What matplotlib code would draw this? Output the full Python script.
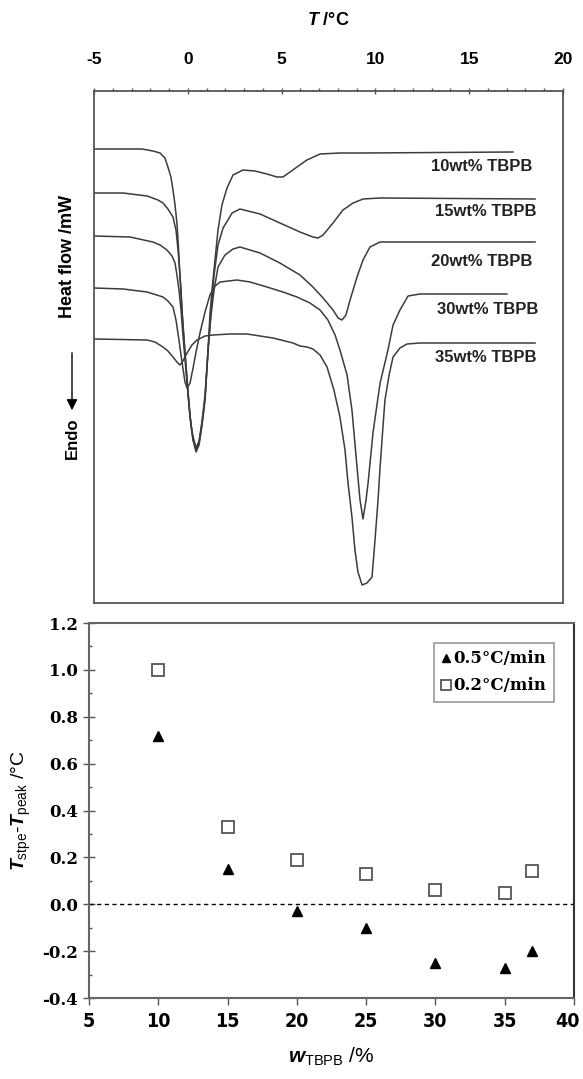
import matplotlib
matplotlib.use('Agg')
import matplotlib.pyplot as plt
import matplotlib.transforms as mtransforms
from matplotlib import font_manager
from matplotlib.font_manager import FontProperties
from matplotlib.ticker import MultipleLocator, FormatStrFormatter, NullLocator

plt.rcParams['font.family'] = ['Liberation Sans', 'DejaVu Sans']
plt.rcParams['axes.unicode_minus'] = False
plt.rcParams['mathtext.fontset'] = 'custom'
plt.rcParams['mathtext.rm'] = 'Liberation Sans'
plt.rcParams['mathtext.it'] = 'Liberation Sans:italic:bold'
plt.rcParams['mathtext.bf'] = 'Liberation Sans:bold'

# narrow bold face for the lower x tick labels, if one is installed
narrow_fp = None
for f in font_manager.fontManager.ttflist:
    cond = 'Narrow' in f.name or 'Condensed' in f.name or str(f.stretch) in ('condensed', 'semi-condensed')
    if cond and f.style == 'normal' and str(f.weight) in ('bold', '700') and 'Sans' in f.name + f.fname:
        narrow_fp = FontProperties(fname=f.fname, size=14)
        break
if narrow_fp is None:
    narrow_fp = FontProperties(family='Liberation Sans', weight='bold', size=13)

# ---- DSC curves (T in degC, heat flow in arbitrary mW) ----
T10 = [-5.00, -2.44, -1.86, -1.48, -1.22, -1.06, -0.90, -0.79, -0.68, -0.58, -0.52, -0.47, -0.42, -0.36,
       -0.31, -0.20, -0.04, 0.12, 0.28, 0.44, 0.60, 0.76, 0.92, 1.08, 1.18, 1.29, 1.45, 1.61, 1.82, 2.09,
       2.41, 2.94, 3.58, 4.22, 4.75, 5.07, 5.45, 5.82, 6.35, 7.05, 8.11, 9.34, 17.33]
H10 = [4.54, 4.54, 4.52, 4.50, 4.45, 4.36, 4.26, 4.13, 3.98, 3.80, 3.63, 3.46, 3.28, 3.13,
       2.93, 2.63, 2.23, 1.86, 1.63, 1.51, 1.58, 1.78, 2.03, 2.53, 2.88, 3.13, 3.43, 3.73, 3.98, 4.15,
       4.28, 4.33, 4.32, 4.29, 4.26, 4.26, 4.31, 4.36, 4.43, 4.49, 4.50, 4.50, 4.51]

T15 = [-5.00, -3.45, -2.17, -1.59, -1.32, -1.06, -0.79, -0.63, -0.52, -0.42, -0.31, -0.20, -0.04, 0.12,
       0.28, 0.44, 0.60, 0.76, 0.92, 1.08, 1.24, 1.40, 1.61, 1.88, 2.36, 2.78, 3.85, 4.91, 5.98, 6.67,
       6.94, 7.21, 7.74, 8.27, 8.81, 9.34, 10.25, 18.51]
H15 = [4.10, 4.10, 4.07, 4.03, 4.00, 3.94, 3.86, 3.73, 3.53, 3.28, 2.93, 2.63, 2.23, 1.86,
       1.63, 1.53, 1.60, 1.80, 2.05, 2.53, 2.93, 3.28, 3.58, 3.75, 3.90, 3.94, 3.89, 3.80, 3.71, 3.66,
       3.65, 3.68, 3.80, 3.93, 4.00, 4.04, 4.05, 4.04]

T20 = [-5.00, -3.08, -1.86, -1.48, -1.11, -0.84, -0.68, -0.58, -0.47, -0.36, -0.26, -0.10, 0.06, 0.22,
       0.44, 0.60, 0.76, 0.92, 1.08, 1.24, 1.40, 1.61, 1.98, 2.41, 2.78, 3.85, 4.91, 5.98, 6.67, 7.21,
       7.74, 8.01, 8.22, 8.43, 8.65, 9.02, 9.34, 9.71, 10.25, 10.78, 18.51]
H20 = [3.67, 3.66, 3.61, 3.58, 3.53, 3.47, 3.40, 3.28, 3.13, 2.93, 2.68, 2.33, 1.98, 1.71,
       1.55, 1.62, 1.82, 2.08, 2.53, 2.88, 3.13, 3.36, 3.48, 3.54, 3.56, 3.50, 3.40, 3.28, 3.16, 3.05,
       2.93, 2.85, 2.83, 2.88, 3.03, 3.26, 3.43, 3.56, 3.61, 3.61, 3.61]

T30 = [-5.00, -3.45, -2.17, -1.32, -1.06, -0.79, -0.63, -0.47, -0.31, -0.15, -0.04, 0.12, 0.28, 0.44,
       0.65, 0.92, 1.18, 1.45, 1.72, 2.62, 3.32, 4.22, 5.07, 5.82, 6.51, 7.05, 7.47, 7.85, 8.11, 8.49,
       8.75, 9.02, 9.18, 9.34, 9.50, 9.61, 9.87, 10.25, 10.67, 10.94, 11.31, 11.74, 12.38, 17.01]
H30 = [3.15, 3.14, 3.11, 3.06, 3.02, 2.96, 2.83, 2.63, 2.41, 2.21, 2.15, 2.20, 2.35, 2.51,
       2.70, 2.91, 3.08, 3.17, 3.21, 3.23, 3.21, 3.16, 3.11, 3.06, 3.00, 2.93, 2.83, 2.68, 2.53, 2.28,
       1.93, 1.36, 1.03, 0.84, 1.03, 1.20, 1.70, 2.20, 2.53, 2.78, 2.93, 3.07, 3.09, 3.09]

T35 = [-5.00, -2.17, -1.75, -1.32, -1.06, -0.79, -0.58, -0.42, -0.26, -0.04, 0.22, 0.49, 0.92, 1.34,
       2.25, 3.16, 3.85, 4.54, 5.18, 5.61, 5.98, 6.35, 6.67, 7.05, 7.42, 7.79, 8.11, 8.38, 8.54, 8.75,
       8.91, 9.07, 9.29, 9.55, 9.82, 9.98, 10.14, 10.25, 10.41, 10.51, 10.73, 10.94, 11.31, 11.68, 12.38, 18.51]
H35 = [2.64, 2.63, 2.61, 2.56, 2.52, 2.46, 2.41, 2.38, 2.42, 2.50, 2.58, 2.63, 2.67, 2.68,
       2.69, 2.69, 2.67, 2.65, 2.62, 2.60, 2.57, 2.56, 2.54, 2.48, 2.36, 2.13, 1.86, 1.53, 1.20, 0.86,
       0.53, 0.31, 0.18, 0.20, 0.26, 0.63, 1.03, 1.36, 1.78, 2.03, 2.28, 2.46, 2.55, 2.59, 2.60, 2.60]

curve_names = ['10wt% TBPB', '15wt% TBPB', '20wt% TBPB', '30wt% TBPB', '35wt% TBPB']

# ---- T_stpe - T_peak vs w_TBPB ----
w_tbpb = [10, 15, 20, 25, 30, 35, 37]
d_05 = [0.72, 0.15, -0.03, -0.10, -0.25, -0.27, -0.20]
d_02 = [1.00, 0.33, 0.19, 0.13, 0.06, 0.05, 0.14]

fig = plt.figure(figsize=(5.83, 10.79), dpi=100)

# ================= top panel =================
ax1 = fig.add_axes([94/583, 1-603/1079, 469/583, 512/1079])
curves = [(T10, H10), (T15, H15), (T20, H20), (T30, H30), (T35, H35)]
# label anchors (right end x, centre y)
lab_xy = [(18.35, 4.36), (18.61, 3.92), (18.35, 3.41), (18.67, 2.93), (18.61, 2.46)]
for (t, h), name, (lx, ly) in zip(curves, curve_names, lab_xy):
    ax1.plot(t, h, color='#3c3c3c', lw=1.1)
    ax1.text(lx, ly, name, ha='right', va='center', fontsize=12, fontweight='bold', color='#222222')

ax1.set_xlim(-5, 20)
ax1.set_ylim(0, 5.12)
ax1.xaxis.tick_top()
ax1.xaxis.set_major_locator(MultipleLocator(5))
ax1.xaxis.set_minor_locator(MultipleLocator(1))
ax1.yaxis.set_major_locator(NullLocator())
ax1.tick_params(axis='x', which='major', direction='inout', length=5, width=1, color='#555555',
                pad=15, labelsize=12.5)
ax1.tick_params(axis='x', which='minor', direction='out', length=2.5, width=1, color='#555555')
for lab in ax1.get_xticklabels():
    lab.set_fontweight('bold')
ax1.xaxis.set_label_position('top')
ax1.set_xlabel(r'$T$ /°C', fontsize=13, fontweight='bold', labelpad=19)
for sp in ax1.spines.values():
    sp.set_color('#555555')
    sp.set_linewidth(1.3)

fig.text(68/583, 1-256/1079, 'Heat flow /mW', rotation=90, ha='center', va='center',
         fontsize=13, fontweight='bold')
fig.text(72/583, 1-438/1079, 'Endo', rotation=90, ha='center', va='center',
         fontsize=12, fontweight='bold')
fig.add_artist(matplotlib.patches.FancyArrowPatch((72/583, 1-350/1079), (72/583, 1-413/1079),
               transform=fig.transFigure, arrowstyle='-|>', mutation_scale=16, color='black', lw=1))

# ================= bottom panel =================
ax2 = fig.add_axes([89/583, 1-998/1079, 485/583, 375/1079])
ax2.axhline(0, color='black', lw=1, ls=(0, (3, 2.5)))
ax2.plot(w_tbpb, d_05, '^', color='black', ms=6.5, ls='none', label='0.5°C/min')
ax2.plot(w_tbpb, d_02, 's', mfc='white', mec='#555555', mew=1.3, ms=8.5, ls='none', label='0.2°C/min')
ax2.set_xlim(5, 40)
ax2.set_ylim(-0.4, 1.2)
ax2.xaxis.set_major_locator(MultipleLocator(5))
ax2.yaxis.set_major_locator(MultipleLocator(0.2))
ax2.yaxis.set_minor_locator(MultipleLocator(0.1))
ax2.yaxis.set_major_formatter(FormatStrFormatter('%.1f'))
ax2.tick_params(axis='y', which='major', direction='inout', length=8, width=1, color='#555555', pad=4)
ax2.tick_params(axis='y', which='minor', direction='in', length=2.5, width=1, color='#555555')
ax2.tick_params(axis='x', which='major', direction='out', length=5, width=1, color='#555555', pad=5)
for sp in ax2.spines.values():
    sp.set_color('#666666')
    sp.set_linewidth(1.5)
ax2.spines['right'].set_color('#333333')

ax2.set_xlabel(r'$w_{\mathrm{TBPB}}$ /%', fontsize=15)
ax2.xaxis.set_label_coords(0.5, -0.128)
ax2.set_ylabel(r'$T_{\mathrm{stpe}}$-$T_{\mathrm{peak}}$ /°C', fontsize=14)
ax2.yaxis.set_label_coords(-0.115, 0.5)

leg = ax2.legend(loc='upper right', bbox_to_anchor=(0.959, 0.947), borderaxespad=0,
                 handlelength=0.6, handletextpad=0.15, borderpad=0.45, labelspacing=0.6,
                 fancybox=False, framealpha=1, markerscale=0.85,
                 prop={'family': 'DejaVu Serif', 'weight': 'bold', 'size': 12})
leg.get_frame().set_edgecolor('#999999')
leg.get_frame().set_linewidth(1.2)

fig.canvas.draw()
for lab in ax2.get_yticklabels():
    lab.set_fontfamily('DejaVu Serif')
    lab.set_fontweight('bold')
    lab.set_fontsize(12)
for lab in ax2.get_xticklabels():
    lab.set_fontproperties(narrow_fp)
    if lab.get_text() == '40':
        # keep the last label inside the picture, as in the original
        lab.set_transform(lab.get_transform() +
                          mtransforms.ScaledTranslation(-5/72, 0, fig.dpi_scale_trans))

fig.savefig('out.png', dpi=100)
